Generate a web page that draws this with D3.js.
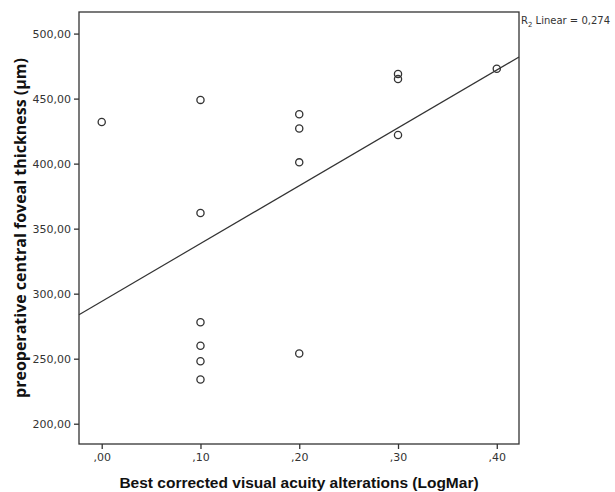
<!DOCTYPE html>
<html>
<head>
<meta charset="utf-8">
<script src="https://cdn.jsdelivr.net/npm/d3@7"></script>
<style>
  body { margin: 0; background: #fff; }
  text { font-family: "DejaVu Sans", sans-serif; }
</style>
</head>
<body>
<div id="container"></div>
<script>
// visual acuity alteration (LogMar) per eye
const acuity = [0.0, 0.1, 0.1, 0.1, 0.1, 0.1, 0.1, 0.2, 0.2, 0.2, 0.2, 0.3, 0.3, 0.3, 0.4];
// preoperative central foveal thickness (µm)
const thickness = [432, 449, 362, 278, 260, 248, 234, 438, 427, 401, 254, 469, 465, 422, 473];
const xTicks = [0, 0.1, 0.2, 0.3, 0.4];
const yTicks = [200, 250, 300, 350, 400, 450, 500];
const rSquaredLabel = "0,274";

const width = 615, height = 492;
const margin = { top: 12, right: 96, bottom: 48, left: 79 };

const svg = d3.select('#container')
    .append('svg')
    .attr('width', width)
    .attr('height', height);

const x = d3.scaleLinear()
    .domain([-0.023, 0.4225])
    .range([margin.left, width - margin.right]);

const y = d3.scaleLinear()
    .domain([184.4, 516.6])
    .range([height - margin.bottom, margin.top]);

const comma = d => d3.format('.2f')(d).replace('.', ',').replace(/^0,/, ',');

// frame
svg.append('rect')
    .attr('x', x.range()[0])
    .attr('y', y.range()[1])
    .attr('width', x.range()[1] - x.range()[0])
    .attr('height', y.range()[0] - y.range()[1])
    .attr('fill', 'none')
    .attr('stroke', '#333')
    .attr('stroke-width', 1.3);

// axes
const xAxis = svg.append('g')
    .attr('transform', `translate(0, ${y.range()[0]})`)
    .call(d3.axisBottom(x).tickValues(xTicks).tickSize(5).tickPadding(4).tickFormat(comma));

const yAxis = svg.append('g')
    .attr('transform', `translate(${x.range()[0]}, 0)`)
    .call(d3.axisLeft(y).tickValues(yTicks).tickSize(5).tickPadding(3).tickFormat(comma));

[xAxis, yAxis].forEach(ax => {
    ax.select('.domain').remove();
    ax.selectAll('line').attr('stroke', '#333').attr('stroke-width', 1.3);
    ax.selectAll('text')
        .attr('fill', '#333')
        .style('font-size', '11px')
        .style('font-family', '"DejaVu Sans", sans-serif');
});

// least squares fit line
const mx = d3.mean(acuity), my = d3.mean(thickness);
const sxy = d3.sum(acuity, (a, i) => (a - mx) * (thickness[i] - my));
const sxx = d3.sum(acuity, a => (a - mx) ** 2);
const slope = sxy / sxx;
const intercept = my - slope * mx;
const fit = v => intercept + slope * v;

svg.append('line')
    .attr('x1', x(x.domain()[0]))
    .attr('y1', y(fit(x.domain()[0])))
    .attr('x2', x(x.domain()[1]))
    .attr('y2', y(fit(x.domain()[1])))
    .attr('stroke', '#333')
    .attr('stroke-width', 1.2);

// points
svg.selectAll('circle.pt')
    .data(acuity.map((a, i) => ({ a, t: thickness[i] })))
    .enter()
    .append('circle')
    .attr('class', 'pt')
    .attr('cx', d => x(d.a))
    .attr('cy', d => y(d.t))
    .attr('r', 3.6)
    .attr('fill', 'none')
    .attr('stroke', '#333')
    .attr('stroke-width', 1.3);

// R² label
const rl = svg.append('text')
    .attr('x', x.range()[1] + 2)
    .attr('y', 24)
    .attr('fill', '#333')
    .style('font-size', '10px');
rl.append('tspan').text('R');
rl.append('tspan').attr('dy', 3).style('font-size', '7px').text('2');
rl.append('tspan').attr('dy', -3).text(' Linear = ' + rSquaredLabel);

// axis titles
svg.append('text')
    .attr('x', (x.range()[0] + x.range()[1]) / 2)
    .attr('y', 488)
    .attr('text-anchor', 'middle')
    .attr('fill', '#111')
    .style('font-family', '"Liberation Sans", Arial, sans-serif')
    .style('font-weight', 'bold')
    .style('font-size', '15.5px')
    .text('Best corrected visual acuity alterations (LogMar)');

svg.append('text')
    .attr('transform', `translate(26, ${(y.range()[0] + y.range()[1]) / 2}) rotate(-90)`)
    .attr('text-anchor', 'middle')
    .attr('fill', '#111')
    .style('font-family', '"Open Sans", "DejaVu Sans", sans-serif')
    .style('font-weight', 'bold')
    .style('font-size', '16px')
    .text('preoperative central foveal thickness (µm)');
</script>
</body>
</html>
